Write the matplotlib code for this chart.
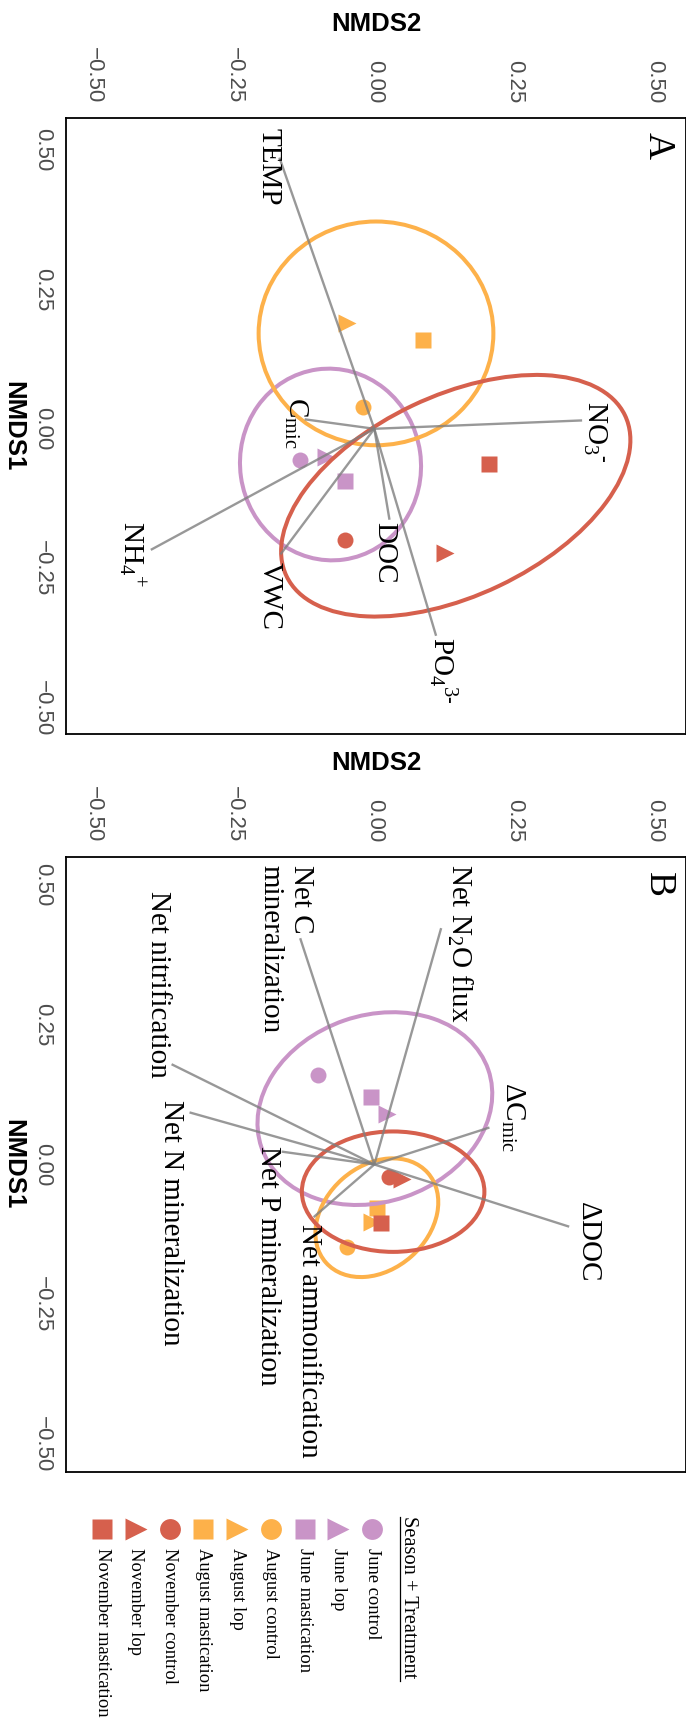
import numpy as np
import matplotlib
matplotlib.use('Agg')
import matplotlib.pyplot as plt
from matplotlib.patches import Ellipse

plt.rcParams['mathtext.fontset'] = 'custom'
plt.rcParams['mathtext.rm'] = 'Liberation Serif'
plt.rcParams['mathtext.it'] = 'Liberation Serif:italic'

SERIF = 'Liberation Serif'
SANS = 'Liberation Sans'

# ---- groups / styling ----
groups = ['June control', 'June lop', 'June mastication',
          'August control', 'August lop', 'August mastication',
          'November control', 'November lop', 'November mastication']
seasons = ['June', 'August', 'November']
season_cols = {'June': '#C994C7', 'August': '#FDB14A', 'November': '#D6604D'}
treat_marker = {'control': 'o', 'lop': '>', 'mastication': 's'}
treat_size = {'control': 11.5, 'lop': 13, 'mastication': 11.5}

tick_vals = [-0.5, -0.25, 0.0, 0.25, 0.5]
tick_labs = ['\u22120.50', '\u22120.25', '0.00', '0.25', '0.50']

# ---- panel A: soil properties ----
a_nmds1 = [-0.056, -0.051, -0.093, 0.039, 0.189, 0.160, -0.200, -0.223, -0.063]
a_nmds2 = [-0.132, -0.086, -0.053, -0.020, -0.049, 0.087, -0.052, 0.125, 0.204]

# ellipses per season: centre NMDS2, centre NMDS1, width, height, angle
a_ell_c2 = [-0.078, 0.003, 0.145]
a_ell_c1 = [-0.064, 0.171, -0.120]
a_ell_w = [0.322, 0.418, 0.668]
a_ell_h = [0.344, 0.401, 0.358]
a_ell_ang = [8, 0, 25.6]

a_vec_names = ['TEMP', r'NO$_3{}^{\text{-}}$', r'C$_{\mathrm{mic}}$', 'DOC', 'VWC',
               r'NH$_4{}^{+}$', r'PO$_4{}^{3\text{-}}$']
a_vec2 = [-0.169, 0.370, -0.124, 0.027, -0.167, -0.398, 0.110]
a_vec1 = [0.486, 0.015, 0.017, -0.163, -0.225, -0.217, -0.371]
a_lab2 = [-0.188, 0.392, -0.140, 0.017, -0.187, -0.432, 0.122]
a_lab1 = [0.469, -0.005, 0.011, -0.222, -0.299, -0.225, -0.433]

# ---- panel B: process rates ----
b_nmds1 = [0.160, 0.090, 0.120, -0.147, -0.102, -0.078, -0.022, -0.026, -0.104]
b_nmds2 = [-0.100, 0.022, -0.006, -0.049, -0.004, 0.004, 0.027, 0.049, 0.012]

b_ell_c2 = [0.001, 0.0045, 0.0335]
b_ell_c1 = [0.0998, -0.095, -0.0485]
b_ell_w = [0.427, 0.242, 0.325]
b_ell_h = [0.333, 0.185, 0.215]
b_ell_ang = [19, 41.5, 0]

b_vec_names = [r'Net N$_2$O flux', 'Net C\nmineralization',
               r'$\Delta$C$_{\mathrm{mic}}$', r'$\Delta$DOC',
               'Net nitrification', 'Net N mineralization',
               'Net P mineralization', 'Net ammonification']
b_vec2 = [0.119, -0.132, 0.205, 0.347, -0.361, -0.329, -0.165, -0.108]
b_vec1 = [0.422, 0.404, 0.066, -0.111, 0.179, 0.093, 0.023, -0.094]
b_lab2 = [0.152, -0.158, 0.246, 0.382, -0.385, -0.362, -0.190, -0.116]
b_lab1 = [0.396, 0.384, 0.085, -0.136, 0.321, -0.104, -0.181, -0.315]


def draw_panel(ax, n1, n2, ec2, ec1, ew, eh, ea, v2, v1, names, l2, l1, letter, ylim):
    for i, g in enumerate(groups):
        s, t = g.split(' ')
        ax.plot(n2[i], n1[i], linestyle='none', marker=treat_marker[t],
                ms=treat_size[t], color=season_cols[s], mec='none', zorder=2)
    for j, s in enumerate(seasons):
        ax.add_patch(Ellipse((ec2[j], ec1[j]), ew[j], eh[j], angle=ea[j],
                             fill=False, ec=season_cols[s], lw=2.9, zorder=3))
    for k in range(len(names)):
        ax.plot([0, v2[k]], [0, v1[k]], color='#7f7f7f', alpha=0.8, lw=1.7,
                solid_capstyle='butt', zorder=4)
        ax.text(l2[k], l1[k], names[k], rotation=-90, ha='center', va='center',
                multialignment='left', fontsize=21, family=SERIF, zorder=5,
                linespacing=1.2)
    ax.text(0.955, 0.955, letter, transform=ax.transAxes, rotation=-90,
            ha='center', va='center', fontsize=27, family=SERIF)

    ax.set_xlim(-0.549, 0.555)
    ax.set_ylim(*ylim)
    ax.set_xticks(tick_vals)
    ax.set_xticklabels(tick_labs)
    ax.set_yticks(tick_vals)
    ax.set_yticklabels(tick_labs)
    ax.xaxis.tick_top()
    ax.tick_params(axis='x', length=0, pad=10.5, labelsize=16,
                   labelcolor='#4D4D4D', labelrotation=-90)
    ax.tick_params(axis='y', length=0, pad=9.5, labelsize=16,
                   labelcolor='#4D4D4D', labelrotation=-90)
    for lab in ax.get_xticklabels():
        lab.set_family(SANS)
        lab.set_va('bottom')
    for lab in ax.get_yticklabels():
        lab.set_family(SANS)
        lab.set_va('center')
    for sp in ax.spines.values():
        sp.set_linewidth(1.3)
        sp.set_color('black')

    ax.set_xlabel('NMDS2', fontsize=18.5, fontweight='bold', family=SANS)
    ax.xaxis.set_label_position('top')
    ax.xaxis.label.set_va('center')
    ax.xaxis.set_label_coords(0.5, 1.1526)
    ax.set_ylabel('NMDS1', fontsize=18.5, fontweight='bold', family=SANS,
                  rotation=-90)
    ax.yaxis.label.set_va('center')
    ax.yaxis.label.set_ha('center')
    ax.yaxis.set_label_coords(-0.0855, 0.5)


fig = plt.figure(figsize=(6.86, 17.19), dpi=100)
W, H = 686, 1719

axA = fig.add_axes([66 / W, (H - 734) / H, 620 / W, 616 / H])
axB = fig.add_axes([66 / W, (H - 1472) / H, 620 / W, 615 / H])

draw_panel(axA, a_nmds1, a_nmds2, a_ell_c2, a_ell_c1, a_ell_w, a_ell_h, a_ell_ang,
           a_vec2, a_vec1, a_vec_names, a_lab2, a_lab1, 'A', (-0.547, 0.557))
draw_panel(axB, b_nmds1, b_nmds2, b_ell_c2, b_ell_c1, b_ell_w, b_ell_h, b_ell_ang,
           b_vec2, b_vec1, b_vec_names, b_lab2, b_lab1, 'B', (-0.549, 0.549))

# ---- legend (rotated like the rest of the figure) ----
axL = fig.add_axes([0, 0, 1, 239 / H])
axL.set_xlim(0, W)
axL.set_ylim(H, H - 239)
axL.axis('off')

axL.text(408, 1516, 'Season + Treatment', rotation=-90, ha='center', va='top',
         fontsize=14.7, family=SERIF)
axL.plot([400, 400], [1517, 1681], color='black', lw=0.9)

leg_size = {'control': 15, 'lop': 16.5, 'mastication': 15}
for i, g in enumerate(groups):
    s, t = g.split(' ')
    x = 372.2 - 33.75 * i
    axL.plot(x, 1529, linestyle='none', marker=treat_marker[t], ms=leg_size[t],
             color=season_cols[s], mec='none')
    axL.text(x, 1548, g, rotation=-90, ha='center', va='top', fontsize=13.3,
             family=SERIF)

fig.savefig('out.png', dpi=100)
